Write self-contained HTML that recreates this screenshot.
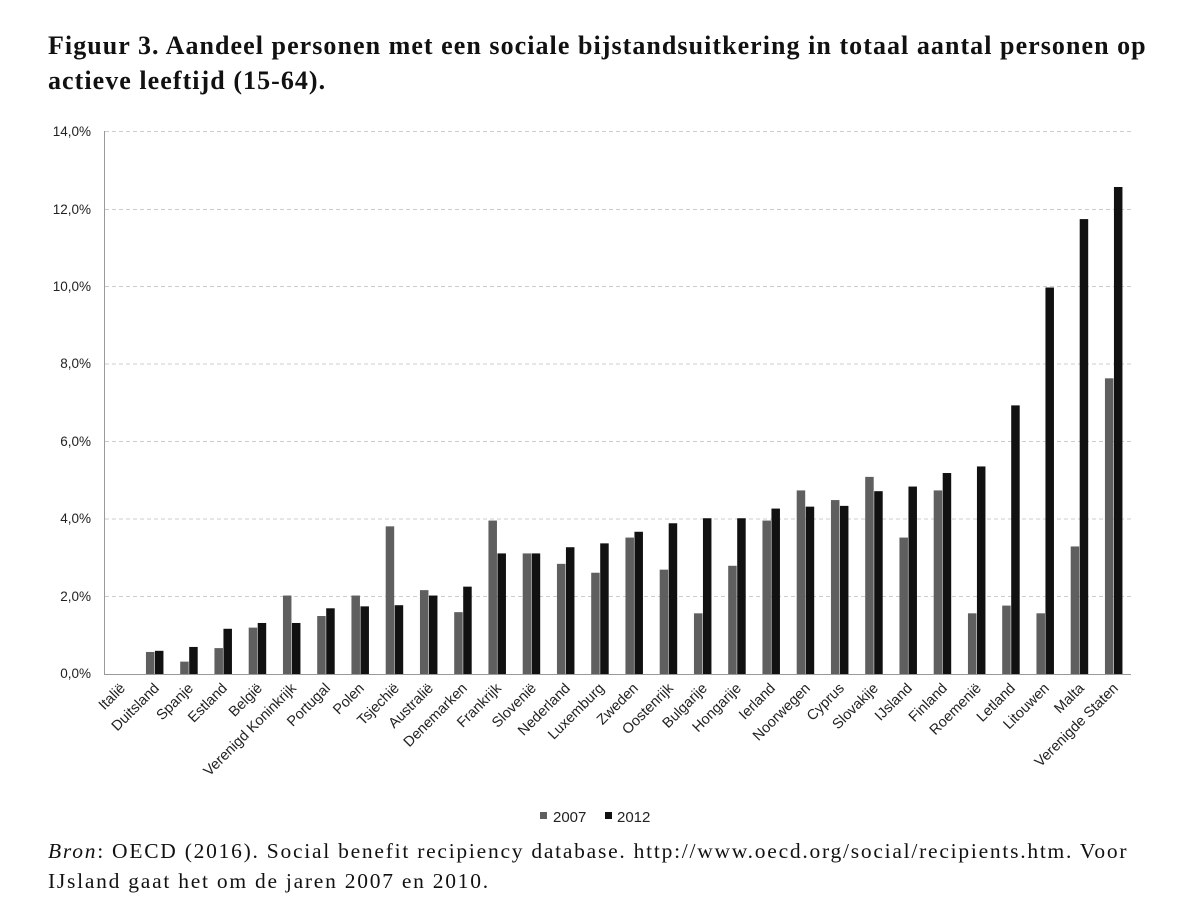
<!DOCTYPE html>
<html><head><meta charset="utf-8"><style>
body{margin:0;background:#fff;width:1200px;height:921px;overflow:hidden}
.t{position:absolute;left:48px;top:28px;font-family:"Liberation Serif",serif;font-weight:bold;font-size:26px;letter-spacing:1.05px;line-height:35px;color:#111;white-space:nowrap}
.s{position:absolute;left:48px;top:836px;font-family:"Liberation Serif",serif;font-size:21.5px;letter-spacing:1.75px;line-height:30px;color:#111;white-space:nowrap}
svg{position:absolute;left:0;top:0}
</style></head><body>
<div class="t">Figuur 3. Aandeel personen met een sociale bijstandsuitkering in totaal aantal personen op<br>actieve leeftijd (15-64).</div>
<svg width="1200" height="921" font-family="Liberation Sans, sans-serif">
<g stroke="#ccc" stroke-dasharray="4,3" stroke-width="1">
<line x1="105" x2="1131" y1="131.5" y2="131.5"/>
<line x1="105" x2="1131" y1="209.5" y2="209.5"/>
<line x1="105" x2="1131" y1="286.5" y2="286.5"/>
<line x1="105" x2="1131" y1="364" y2="364"/>
<line x1="105" x2="1131" y1="441.5" y2="441.5"/>
<line x1="105" x2="1131" y1="519" y2="519"/>
<line x1="105" x2="1131" y1="596.5" y2="596.5"/>
</g>
<g font-size="13.5" fill="#222" text-anchor="end">
<text x="91" y="136">14,0%</text>
<text x="91" y="214">12,0%</text>
<text x="91" y="291">10,0%</text>
<text x="91" y="368">8,0%</text>
<text x="91" y="446">6,0%</text>
<text x="91" y="523">4,0%</text>
<text x="91" y="601">2,0%</text>
<text x="91" y="678">0,0%</text>
</g>
<line x1="104.5" x2="104.5" y1="131" y2="674" stroke="#999"/>
<line x1="104" x2="1131" y1="674.5" y2="674.5" stroke="#999"/>
<g id="bars">
<g transform="translate(120.7,674) scale(1,-38.65)"><rect x="-9" y="0" width="8.5" height="0" fill="#5f5f5f"/><rect x="0" y="0" width="8.5" height="0" fill="#111"/></g>
<g transform="translate(154.95,674) scale(1,-38.65)"><rect x="-9" y="0" width="8.5" height="0.57" fill="#5f5f5f"/><rect x="0" y="0" width="8.5" height="0.6" fill="#111"/></g>
<g transform="translate(189.2,674) scale(1,-38.65)"><rect x="-9" y="0" width="8.5" height="0.32" fill="#5f5f5f"/><rect x="0" y="0" width="8.5" height="0.7" fill="#111"/></g>
<g transform="translate(223.45,674) scale(1,-38.65)"><rect x="-9" y="0" width="8.5" height="0.67" fill="#5f5f5f"/><rect x="0" y="0" width="8.5" height="1.17" fill="#111"/></g>
<g transform="translate(257.7,674) scale(1,-38.65)"><rect x="-9" y="0" width="8.5" height="1.2" fill="#5f5f5f"/><rect x="0" y="0" width="8.5" height="1.32" fill="#111"/></g>
<g transform="translate(291.95,674) scale(1,-38.65)"><rect x="-9" y="0" width="8.5" height="2.03" fill="#5f5f5f"/><rect x="0" y="0" width="8.5" height="1.32" fill="#111"/></g>
<g transform="translate(326.2,674) scale(1,-38.65)"><rect x="-9" y="0" width="8.5" height="1.5" fill="#5f5f5f"/><rect x="0" y="0" width="8.5" height="1.7" fill="#111"/></g>
<g transform="translate(360.45,674) scale(1,-38.65)"><rect x="-9" y="0" width="8.5" height="2.03" fill="#5f5f5f"/><rect x="0" y="0" width="8.5" height="1.75" fill="#111"/></g>
<g transform="translate(394.7,674) scale(1,-38.65)"><rect x="-9" y="0" width="8.5" height="3.82" fill="#5f5f5f"/><rect x="0" y="0" width="8.5" height="1.78" fill="#111"/></g>
<g transform="translate(428.95,674) scale(1,-38.65)"><rect x="-9" y="0" width="8.5" height="2.17" fill="#5f5f5f"/><rect x="0" y="0" width="8.5" height="2.03" fill="#111"/></g>
<g transform="translate(463.2,674) scale(1,-38.65)"><rect x="-9" y="0" width="8.5" height="1.6" fill="#5f5f5f"/><rect x="0" y="0" width="8.5" height="2.26" fill="#111"/></g>
<g transform="translate(497.45,674) scale(1,-38.65)"><rect x="-9" y="0" width="8.5" height="3.97" fill="#5f5f5f"/><rect x="0" y="0" width="8.5" height="3.12" fill="#111"/></g>
<g transform="translate(531.7,674) scale(1,-38.65)"><rect x="-9" y="0" width="8.5" height="3.12" fill="#5f5f5f"/><rect x="0" y="0" width="8.5" height="3.12" fill="#111"/></g>
<g transform="translate(565.95,674) scale(1,-38.65)"><rect x="-9" y="0" width="8.5" height="2.85" fill="#5f5f5f"/><rect x="0" y="0" width="8.5" height="3.28" fill="#111"/></g>
<g transform="translate(600.2,674) scale(1,-38.65)"><rect x="-9" y="0" width="8.5" height="2.62" fill="#5f5f5f"/><rect x="0" y="0" width="8.5" height="3.38" fill="#111"/></g>
<g transform="translate(634.45,674) scale(1,-38.65)"><rect x="-9" y="0" width="8.5" height="3.53" fill="#5f5f5f"/><rect x="0" y="0" width="8.5" height="3.68" fill="#111"/></g>
<g transform="translate(668.7,674) scale(1,-38.65)"><rect x="-9" y="0" width="8.5" height="2.7" fill="#5f5f5f"/><rect x="0" y="0" width="8.5" height="3.9" fill="#111"/></g>
<g transform="translate(702.95,674) scale(1,-38.65)"><rect x="-9" y="0" width="8.5" height="1.57" fill="#5f5f5f"/><rect x="0" y="0" width="8.5" height="4.03" fill="#111"/></g>
<g transform="translate(737.2,674) scale(1,-38.65)"><rect x="-9" y="0" width="8.5" height="2.8" fill="#5f5f5f"/><rect x="0" y="0" width="8.5" height="4.03" fill="#111"/></g>
<g transform="translate(771.45,674) scale(1,-38.65)"><rect x="-9" y="0" width="8.5" height="3.97" fill="#5f5f5f"/><rect x="0" y="0" width="8.5" height="4.28" fill="#111"/></g>
<g transform="translate(805.7,674) scale(1,-38.65)"><rect x="-9" y="0" width="8.5" height="4.75" fill="#5f5f5f"/><rect x="0" y="0" width="8.5" height="4.33" fill="#111"/></g>
<g transform="translate(839.95,674) scale(1,-38.65)"><rect x="-9" y="0" width="8.5" height="4.5" fill="#5f5f5f"/><rect x="0" y="0" width="8.5" height="4.35" fill="#111"/></g>
<g transform="translate(874.2,674) scale(1,-38.65)"><rect x="-9" y="0" width="8.5" height="5.1" fill="#5f5f5f"/><rect x="0" y="0" width="8.5" height="4.73" fill="#111"/></g>
<g transform="translate(908.45,674) scale(1,-38.65)"><rect x="-9" y="0" width="8.5" height="3.53" fill="#5f5f5f"/><rect x="0" y="0" width="8.5" height="4.85" fill="#111"/></g>
<g transform="translate(942.7,674) scale(1,-38.65)"><rect x="-9" y="0" width="8.5" height="4.75" fill="#5f5f5f"/><rect x="0" y="0" width="8.5" height="5.2" fill="#111"/></g>
<g transform="translate(976.95,674) scale(1,-38.65)"><rect x="-9" y="0" width="8.5" height="1.57" fill="#5f5f5f"/><rect x="0" y="0" width="8.5" height="5.37" fill="#111"/></g>
<g transform="translate(1011.2,674) scale(1,-38.65)"><rect x="-9" y="0" width="8.5" height="1.77" fill="#5f5f5f"/><rect x="0" y="0" width="8.5" height="6.95" fill="#111"/></g>
<g transform="translate(1045.45,674) scale(1,-38.65)"><rect x="-9" y="0" width="8.5" height="1.57" fill="#5f5f5f"/><rect x="0" y="0" width="8.5" height="10.0" fill="#111"/></g>
<g transform="translate(1079.7,674) scale(1,-38.65)"><rect x="-9" y="0" width="8.5" height="3.3" fill="#5f5f5f"/><rect x="0" y="0" width="8.5" height="11.77" fill="#111"/></g>
<g transform="translate(1113.95,674) scale(1,-38.65)"><rect x="-9" y="0" width="8.5" height="7.65" fill="#5f5f5f"/><rect x="0" y="0" width="8.5" height="12.6" fill="#111"/></g>
</g>
<g font-size="14.5" fill="#222" text-anchor="end">
<text transform="translate(126,689) rotate(-45)">Italië</text>
<text transform="translate(160,689) rotate(-45)">Duitsland</text>
<text transform="translate(194,689) rotate(-45)">Spanje</text>
<text transform="translate(228,689) rotate(-45)">Estland</text>
<text transform="translate(263,689) rotate(-45)">België</text>
<text transform="translate(297,689) rotate(-45)">Verenigd Koninkrijk</text>
<text transform="translate(331,689) rotate(-45)">Portugal</text>
<text transform="translate(365,689) rotate(-45)">Polen</text>
<text transform="translate(400,689) rotate(-45)">Tsjechië</text>
<text transform="translate(434,689) rotate(-45)">Australië</text>
<text transform="translate(468,689) rotate(-45)">Denemarken</text>
<text transform="translate(502,689) rotate(-45)">Frankrijk</text>
<text transform="translate(537,689) rotate(-45)">Slovenië</text>
<text transform="translate(571,689) rotate(-45)">Nederland</text>
<text transform="translate(605,689) rotate(-45)">Luxemburg</text>
<text transform="translate(639,689) rotate(-45)">Zweden</text>
<text transform="translate(674,689) rotate(-45)">Oostenrijk</text>
<text transform="translate(708,689) rotate(-45)">Bulgarije</text>
<text transform="translate(742,689) rotate(-45)">Hongarije</text>
<text transform="translate(776,689) rotate(-45)">Ierland</text>
<text transform="translate(811,689) rotate(-45)">Noorwegen</text>
<text transform="translate(845,689) rotate(-45)">Cyprus</text>
<text transform="translate(879,689) rotate(-45)">Slovakije</text>
<text transform="translate(913,689) rotate(-45)">IJsland</text>
<text transform="translate(948,689) rotate(-45)">Finland</text>
<text transform="translate(982,689) rotate(-45)">Roemenië</text>
<text transform="translate(1016,689) rotate(-45)">Letland</text>
<text transform="translate(1050,689) rotate(-45)">Litouwen</text>
<text transform="translate(1085,689) rotate(-45)">Malta</text>
<text transform="translate(1119,689) rotate(-45)">Verenigde Staten</text>
</g>
<rect x="540" y="812" width="7" height="7" fill="#5f5f5f"/>
<text x="553" y="822" font-size="15" fill="#222">2007</text>
<rect x="605" y="812" width="7" height="7" fill="#111"/>
<text x="617" y="822" font-size="15" fill="#222">2012</text>
</svg>
<div class="s"><i>Bron</i>: OECD (2016). Social benefit recipiency database. http://www.oecd.org/social/recipients.htm. Voor<br>IJsland gaat het om de jaren 2007 en 2010.</div>
</body></html>
